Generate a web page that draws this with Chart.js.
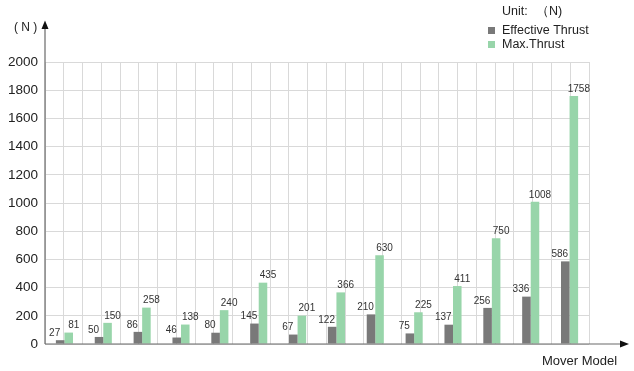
<!DOCTYPE html>
<html>
<head>
<meta charset="utf-8">
<script src="https://cdn.jsdelivr.net/npm/chart.js@4"></script>
<style>
  html, body { margin: 0; padding: 0; background: #fff; }
  #wrap { width: 634px; height: 371px; }
</style>
</head>
<body>
<div id="wrap"><canvas id="thrustChart" width="634" height="371"></canvas></div>
<script>
// Mover models (unlabeled on the chart)
const models = ['1', '2', '3', '4', '5', '6', '7', '8', '9', '10', '11', '12', '13', '14'];
const effectiveThrust = [27, 50, 86, 46, 80, 145, 67, 122, 210, 75, 137, 256, 336, 586];
const maxThrust = [81, 150, 258, 138, 240, 435, 201, 366, 630, 225, 411, 750, 1008, 1758];
const yTicks = [0, 200, 400, 600, 800, 1000, 1200, 1400, 1600, 1800, 2000];

const FONT = '"Liberation Sans", Arial, sans-serif';
const DARK = '#797979';
const GREEN = '#98d5aa';

// value labels, axis arrows and the little legend block
const decorations = {
    id: 'decorations',
    afterDatasetsDraw(chart) {
        const ctx = chart.ctx;
        const area = chart.chartArea;
        const y = chart.scales.y;
        const y0 = y.getPixelForValue(0);

        ctx.save();
        ctx.font = '10px ' + FONT;
        ctx.fillStyle = '#333';
        ctx.textAlign = 'center';
        ctx.textBaseline = 'bottom';
        chart.data.datasets.forEach((ds, di) => {
            const meta = chart.getDatasetMeta(di);
            const shift = di === 0 ? -5.5 : 5;
            meta.data.forEach((bar, i) => {
                ctx.fillText(String(ds.data[i]), bar.x + shift, bar.y - 2);
            });
        });

        // axes with arrows
        ctx.strokeStyle = '#6a6a6a';
        ctx.lineWidth = 1.2;
        ctx.beginPath();
        ctx.moveTo(area.left, y0);
        ctx.lineTo(622, y0);
        ctx.moveTo(area.left, y0);
        ctx.lineTo(area.left, 27);
        ctx.stroke();

        ctx.fillStyle = '#111';
        ctx.beginPath();
        ctx.moveTo(629, y0);
        ctx.lineTo(620, y0 - 3.5);
        ctx.lineTo(620, y0 + 3.5);
        ctx.closePath();
        ctx.fill();
        ctx.beginPath();
        ctx.moveTo(area.left, 20.5);
        ctx.lineTo(area.left - 3.5, 29);
        ctx.lineTo(area.left + 3.5, 29);
        ctx.closePath();
        ctx.fill();

        // axis titles
        ctx.fillStyle = '#222';
        ctx.textBaseline = 'middle';
        ctx.font = '12px ' + FONT;
        ctx.textAlign = 'left';
        ctx.fillText('( N )', 14, 27.5);
        ctx.font = '13px ' + FONT;
        ctx.fillText('Mover Model', 542, 361);

        // legend
        ctx.font = '12.5px ' + FONT;
        ctx.fillText('Unit:', 502, 12);
        ctx.fillText('（N)', 536, 12);
        ctx.fillStyle = DARK;
        ctx.fillRect(488, 27, 7, 7);
        ctx.fillStyle = GREEN;
        ctx.fillRect(488, 41, 7, 7);
        ctx.fillStyle = '#222';
        ctx.fillText('Effective Thrust', 502, 30.5);
        ctx.fillText('Max.Thrust', 502, 44.5);
        ctx.restore();
    }
};

new Chart(document.getElementById('thrustChart'), {
    type: 'bar',
    data: {
        labels: models,
        datasets: [{
            label: 'Effective Thrust',
            data: effectiveThrust,
            backgroundColor: DARK,
            categoryPercentage: 0.44,
            barPercentage: 1.0
        }, {
            label: 'Max.Thrust',
            data: maxThrust,
            backgroundColor: GREEN,
            categoryPercentage: 0.44,
            barPercentage: 1.0
        }]
    },
    options: {
        responsive: false,
        animation: false,
        layout: { padding: { left: 0, right: 45, top: 62, bottom: 27 } },
        plugins: {
            legend: { display: false },
            tooltip: { enabled: false }
        },
        scales: {
            x: {
                grid: { display: false },
                border: { display: false },
                ticks: { display: false },
                afterFit(scale) { scale.height = 0; }
            },
            // half-category grid lines behind the bars
            xGrid: {
                type: 'linear',
                position: 'bottom',
                min: -0.5,
                max: models.length - 0.5,
                ticks: { display: false, stepSize: 0.5 },
                grid: { color: '#d9d9d9', lineWidth: 1, drawTicks: false },
                border: { display: false },
                afterFit(scale) { scale.height = 0; }
            },
            y: {
                min: yTicks[0],
                max: yTicks[yTicks.length - 1],
                afterBuildTicks(scale) {
                    scale.ticks = yTicks.map(v => ({ value: v }));
                },
                ticks: {
                    color: '#222',
                    padding: 7,
                    font: { family: FONT, size: 13.5 },
                    callback: value => String(value)
                },
                grid: { color: '#d9d9d9', lineWidth: 1, drawTicks: false },
                border: { display: false },
                afterFit(scale) { scale.width = 45; }
            }
        }
    },
    plugins: [decorations]
});
</script>
</body>
</html>
